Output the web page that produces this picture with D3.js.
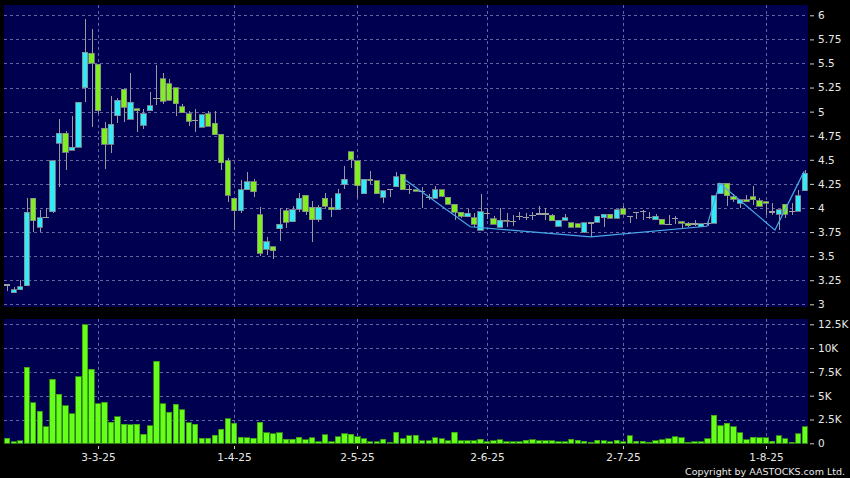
<!DOCTYPE html>
<html><head><meta charset="utf-8">
<script src="https://cdn.jsdelivr.net/npm/d3@7"></script>
<style>
html,body{margin:0;padding:0;background:#000;}
svg{display:block;font-family:"DejaVu Sans",Verdana,sans-serif;}
</style></head>
<body>
<svg id="chart" width="850" height="478"></svg>
<script>
// ---- data ----
const opens  = [3.20,3.12,3.15,3.19,4.10,3.80,3.90,3.96,4.67,4.775,4.60,4.63,5.25,5.605,5.49,4.83,4.66,4.955,5.23,4.92,
5.03,4.86,5.01,5.135,5.34,5.29,5.25,5.05,4.98,4.91,4.84,4.98,4.88,4.765,4.49,4.10,3.97,4.19,4.27,3.93,
3.57,3.60,3.785,3.97,3.857,3.985,4.13,4.01,3.88,4.10,4.01,3.98,4.24,4.585,4.49,4.15,4.30,4.28,4.11,4.19,
4.22,4.35,4.19,4.19,4.17,4.11,4.10,4.19,4.11,4.04,3.955,3.91,3.90,3.77,3.945,3.89,3.80,3.875,3.86,3.91,
3.90,3.92,3.935,3.935,3.925,3.81,3.875,3.845,3.835,3.75,3.845,3.85,3.90,3.935,3.895,3.99,3.91,3.955,3.965,3.90,
3.88,3.885,3.83,3.89,3.855,3.84,3.835,3.805,3.84,3.84,4.15,4.255,4.115,4.05,4.083,4.115,4.075,4.065,3.96,3.935,
4.04,3.965,3.965,4.18];
const highs  = [3.21,3.18,3.25,4.10,4.10,3.98,4.00,4.49,4.92,4.80,4.955,5.10,5.96,5.86,5.49,4.895,5.16,5.14,5.23,5.40,
5.03,5.03,5.20,5.48,5.40,5.34,5.25,5.08,5.01,5.03,4.97,5.01,5.01,4.765,4.52,4.10,4.29,4.37,4.30,4.01,
3.695,3.60,4.00,4.00,4.02,4.16,4.13,4.07,4.03,4.16,4.10,4.20,4.435,4.585,4.49,4.30,4.38,4.28,4.18,4.19,
4.375,4.35,4.24,4.19,4.215,4.14,4.23,4.19,4.11,4.04,3.955,3.99,3.945,4.15,4.00,3.92,4.00,3.945,3.93,3.96,
3.945,3.96,4.02,4.00,3.935,3.87,3.935,3.845,3.835,3.845,3.845,3.92,3.935,3.935,3.98,4.02,3.91,3.955,3.98,3.955,
3.94,3.885,3.925,3.915,3.86,3.85,3.88,3.835,3.855,4.125,4.255,4.255,4.14,4.085,4.135,4.23,4.10,4.07,4.05,3.98,
4.04,4.05,4.19,4.395];
const lows   = [3.14,3.12,3.15,3.19,3.75,3.75,3.90,3.95,4.22,4.39,4.60,4.63,5.10,4.84,4.98,4.40,4.57,4.88,4.895,4.92,
4.79,4.82,5.01,5.07,5.08,5.11,4.95,4.99,4.85,4.79,4.84,4.85,4.76,4.39,4.06,3.77,3.945,4.19,4.11,3.50,
3.51,3.47,3.66,3.795,3.857,3.96,3.93,3.65,3.85,3.99,3.91,3.98,4.20,4.41,4.10,4.15,4.245,4.15,4.05,4.11,
4.22,4.19,4.14,4.175,4.00,4.08,4.10,4.11,4.04,3.875,3.90,3.91,3.805,3.77,3.89,3.83,3.80,3.80,3.81,3.875,
3.875,3.875,3.93,3.875,3.865,3.80,3.875,3.80,3.80,3.745,3.70,3.85,3.805,3.895,3.89,3.935,3.845,3.89,3.875,3.89,
3.88,3.83,3.83,3.83,3.795,3.80,3.815,3.80,3.81,3.84,4.15,4.02,4.06,4.00,4.065,4.03,4.02,3.925,3.925,3.77,
3.90,3.925,3.965,4.18];
const closes = [3.20,3.15,3.18,3.955,3.865,3.90,3.90,4.49,4.775,4.58,4.63,5.10,5.615,5.50,5.01,4.66,4.87,5.12,5.045,5.10,
5.01,4.98,5.06,5.135,5.11,5.12,5.08,4.99,4.90,4.91,4.97,4.85,4.76,4.47,4.13,3.97,4.19,4.27,4.17,3.53,
3.65,3.555,3.83,3.85,3.98,4.10,3.96,3.88,4.01,4.02,3.98,4.15,4.30,4.50,4.23,4.30,4.28,4.15,4.18,4.19,
4.325,4.19,4.19,4.175,4.17,4.11,4.19,4.12,4.04,3.955,3.915,3.945,3.83,3.96,3.945,3.83,3.87,3.86,3.86,3.91,
3.90,3.92,3.935,3.935,3.865,3.87,3.90,3.80,3.80,3.845,3.845,3.915,3.935,3.895,3.98,3.935,3.91,3.955,3.965,3.90,
3.915,3.83,3.83,3.89,3.84,3.815,3.835,3.835,3.84,4.125,4.255,4.125,4.09,4.085,4.066,4.085,4.02,4.05,3.96,3.98,
3.935,3.965,4.125,4.36];
// volume in thousands of shares
const volumes = [0.53,0.14,0.25,7.98,4.27,3.36,1.72,6.72,5.15,3.92,3.08,7.0,12.43,7.77,4.13,4.31,2.21,2.8,2.0,1.93,
2.0,0.95,1.86,8.61,4.17,3.26,4.1,3.5,2.14,2.0,0.53,0.53,0.84,1.47,2.59,2.1,0.63,0.56,0.53,2.21,
1.09,0.98,1.09,0.42,0.42,0.63,0.35,0.56,0.18,0.88,0.18,0.7,0.98,0.95,0.67,0.49,0.18,0.18,0.42,0.1,
1.16,0.49,0.8,0.84,0.28,0.28,0.6,0.49,0.28,1.16,0.25,0.28,0.25,0.42,0.18,0.28,0.35,0.18,0.18,0.18,
0.32,0.39,0.28,0.28,0.25,0.14,0.14,0.42,0.32,0.21,0.1,0.32,0.25,0.14,0.32,0.14,0.77,0.21,0.21,0.1,
0.25,0.39,0.49,0.67,0.56,0.1,0.14,0.14,0.46,2.94,1.82,2.1,1.75,1.12,0.35,0.63,0.6,0.56,0.21,0.77,
0.49,0.1,0.98,1.72];
// drawn trend line: candle index and price
const trendIdx   = [61.2, 71.4, 90, 107.9, 109.9, 118.4, 122.9];
const trendPrice = [4.30, 3.805, 3.70, 3.81, 4.256, 3.77, 4.38];
// x-axis tick labels and the candle index they sit on
const dateLabels = ["3-3-25","1-4-25","2-5-25","2-6-25","2-7-25","1-8-25"];
const dateIdx    = [14, 35, 54, 74, 95, 117];
const priceTicks = [3,3.25,3.5,3.75,4,4.25,4.5,4.75,5,5.25,5.5,5.75,6];
const priceTickLabels = ["3","3.25","3.5","3.75","4","4.25","4.5","4.75","5","5.25","5.5","5.75","6"];
const volTicks = [0,2.5,5,7.5,10,12.5];
const volTickLabels = ["0","2.5K","5K","7.5K","10K","12.5K"];

// ---- layout ----
const N = closes.length;
const L = 4, R = 808;
const pTop = 5, pBot = 307;
const vTop = 319, vBot = 444;
const navy = "#000050", gridC = "#6464a0";
const upC = "#33eaf8", downC = "#80ee22", dojiC = "#a0a0a0", edgeC = "#8a8a8a", wickC = "#9a9a9a";
const volC = "#66ff1a", volEdge = "#3a9a10";

const svg = d3.select("#chart");
svg.append("rect").attr("width",850).attr("height",478).attr("fill","#000");

const x = d3.scaleBand().domain(d3.range(N)).range([L,R]).paddingInner(0.18).paddingOuter(0.09);
const xc = i => x(i) + x.bandwidth()/2;
const xf = v => x(0) + x.bandwidth()/2 + v * x.step();
const yP = d3.scaleLinear().domain([3,6]).range([304.3,15.3]);
const yV = d3.scaleLinear().domain([0,12.5]).range([443.3,324.3]);

// panels
svg.append("rect").attr("x",L).attr("y",pTop).attr("width",R-L).attr("height",pBot-pTop).attr("fill",navy);
svg.append("rect").attr("x",L).attr("y",vTop).attr("width",R-L).attr("height",vBot-vTop).attr("fill",navy);

// grids
const g = svg.append("g").attr("stroke",gridC).attr("stroke-width",1).attr("stroke-dasharray","3,3").attr("shape-rendering","crispEdges");
priceTicks.forEach(t=>{ g.append("line").attr("x1",L).attr("x2",R).attr("y1",Math.round(yP(t))+0.5).attr("y2",Math.round(yP(t))+0.5); });
volTicks.filter(t=>t>0).forEach(t=>{ g.append("line").attr("x1",L).attr("x2",R).attr("y1",Math.round(yV(t))+0.5).attr("y2",Math.round(yV(t))+0.5); });
dateIdx.forEach(i=>{
  const xx = Math.round(xc(i))+0.5;
  g.append("line").attr("x1",xx).attr("x2",xx).attr("y1",pTop).attr("y2",pBot);
  g.append("line").attr("x1",xx).attr("x2",xx).attr("y1",vTop).attr("y2",vBot);
});

// candles
const bw = x.bandwidth();
const cg = svg.append("g").attr("shape-rendering","crispEdges");
for (let i=0;i<N;i++){
  const o=opens[i], c=closes[i], h=highs[i], l=lows[i];
  const cx = Math.round(xc(i))+0.5;
  cg.append("line").attr("x1",cx).attr("x2",cx).attr("y1",yP(h)).attr("y2",yP(l)).attr("stroke",wickC).attr("stroke-width",1);
  if (Math.abs(o-c) < 0.004){
    cg.append("line").attr("x1",x(i)-0.5).attr("x2",x(i)+bw+0.5).attr("y1",yP(o)).attr("y2",yP(o)).attr("stroke",dojiC).attr("stroke-width",1.5);
  } else {
    const top = yP(Math.max(o,c)), bot = yP(Math.min(o,c));
    cg.append("rect").attr("x",x(i)).attr("y",top).attr("width",bw).attr("height",Math.max(1,bot-top))
      .attr("fill", c>o?upC:downC).attr("stroke",edgeC).attr("stroke-width",0.8);
  }
}

// trend line
const line = d3.line().x((d,k)=>xf(trendIdx[k])).y((d,k)=>yP(trendPrice[k]));
svg.append("path").datum(trendIdx).attr("d",line).attr("fill","none").attr("stroke","#4aa8e8").attr("stroke-width",1.2);

// volume bars
const vg = svg.append("g").attr("shape-rendering","crispEdges");
volumes.forEach((v,i)=>{
  vg.append("rect").attr("x",x(i)).attr("y",yV(v)).attr("width",bw).attr("height",yV(0)-yV(v))
    .attr("fill",volC).attr("stroke",volEdge).attr("stroke-width",0.8);
});

// right axes
const axP = d3.axisRight(yP).tickValues(priceTicks).tickSize(4).tickPadding(4).tickFormat((d,k)=>priceTickLabels[k]);
const axV = d3.axisRight(yV).tickValues(volTicks).tickSize(4).tickPadding(4).tickFormat((d,k)=>volTickLabels[k]);
[axP, axV].forEach(ax=>{
  const a = svg.append("g").attr("transform",`translate(${R+2},0)`).call(ax);
  a.select(".domain").remove();
  a.selectAll(".tick line").attr("stroke","#cccccc");
  a.selectAll(".tick text").attr("fill","#e8e8e8").attr("font-size","10.5px").attr("font-family","DejaVu Sans, sans-serif");
});

// bottom date labels
const xa = svg.append("g");
dateIdx.forEach((i,k)=>{
  const xx = Math.round(xc(i))+0.5;
  xa.append("line").attr("x1",xx).attr("x2",xx).attr("y1",vBot+2).attr("y2",vBot+5).attr("stroke","#cccccc");
  xa.append("text").attr("x",xx).attr("y",461).attr("text-anchor","middle").attr("fill","#e8e8e8")
    .attr("font-size","10.5px").text(dateLabels[k]);
});

svg.append("text").attr("x",845).attr("y",475).attr("text-anchor","end").attr("fill","#e8e8e8")
  .attr("font-size","9.5px").text("Copyright by AASTOCKS.com Ltd.");
</script>
</body></html>
